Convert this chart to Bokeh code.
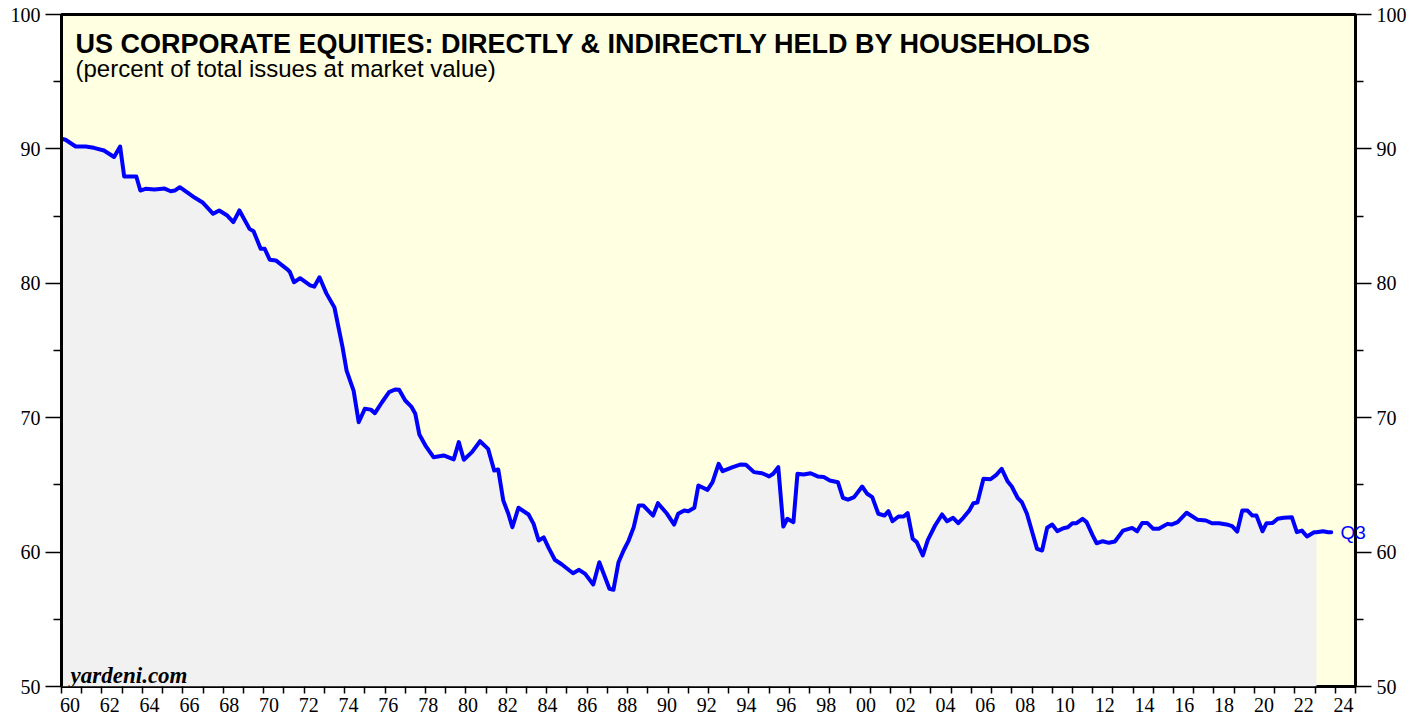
from bokeh.plotting import figure
from bokeh.models import Range1d, LinearAxis, FixedTicker, Label
from bokeh.embed import file_html
from bokeh.resources import INLINE

# ---- data ----
years = [
    1960.0, 1960.2, 1960.7, 1961.2, 1961.6, 1962.1, 1962.6, 1962.9, 1963.1, 1963.7,
    1963.9, 1964.15, 1964.6, 1965.1, 1965.4, 1965.6, 1965.85, 1966.2, 1966.6, 1967.0,
    1967.5, 1967.8, 1968.2, 1968.5, 1968.8, 1969.3, 1969.5, 1969.85, 1970.05, 1970.3,
    1970.6, 1971.2, 1971.3, 1971.5, 1971.8, 1972.3, 1972.5, 1972.76, 1973.1, 1973.5,
    1973.9, 1974.1, 1974.45, 1974.7, 1975.0, 1975.3, 1975.5, 1975.85, 1976.2, 1976.5,
    1976.7, 1977.0, 1977.3, 1977.5, 1977.7, 1978.0, 1978.4, 1978.9, 1979.4, 1979.65,
    1979.9, 1980.3, 1980.7, 1981.1, 1981.4, 1981.6, 1981.85, 1982.1, 1982.3, 1982.6,
    1983.1, 1983.35, 1983.6, 1983.85, 1984.1, 1984.4, 1984.75, 1985.3, 1985.6, 1985.9,
    1986.3, 1986.6, 1987.1, 1987.3, 1987.55, 1987.8, 1988.05, 1988.3, 1988.55, 1988.77,
    1989.26, 1989.5, 1989.95, 1990.3, 1990.5, 1990.8, 1991.0, 1991.3, 1991.5, 1991.95,
    1992.2, 1992.5, 1992.7, 1993.2, 1993.6, 1993.85, 1994.25, 1994.65, 1995.0, 1995.2,
    1995.45, 1995.7, 1995.9, 1996.2, 1996.4, 1996.7, 1997.05, 1997.4, 1997.7, 1998.0,
    1998.4, 1998.65, 1998.9, 1999.2, 1999.6, 1999.85, 2000.1, 2000.4, 2000.7, 2000.9,
    2001.1, 2001.4, 2001.65, 2001.85, 2002.1, 2002.3, 2002.6, 2002.85, 2003.2, 2003.55,
    2003.8, 2004.1, 2004.35, 2004.6, 2004.9, 2005.1, 2005.3, 2005.6, 2005.95, 2006.25,
    2006.5, 2006.8, 2007.0, 2007.3, 2007.5, 2007.75, 2008.25, 2008.5, 2008.75, 2009.0,
    2009.25, 2009.55, 2009.77, 2010.0, 2010.2, 2010.5, 2010.7, 2011.0, 2011.2, 2011.5,
    2011.8, 2012.1, 2012.5, 2012.95, 2013.2, 2013.45, 2013.7, 2014.0, 2014.27, 2014.7,
    2014.9, 2015.2, 2015.65, 2016.2, 2016.6, 2016.9, 2017.25, 2017.7, 2017.9, 2018.15,
    2018.4, 2018.65, 2018.9, 2019.1, 2019.4, 2019.6, 2019.9, 2020.15, 2020.45, 2020.85,
    2021.1, 2021.35, 2021.6, 2021.95, 2022.07, 2022.4, 2022.65, 2022.8,
]
share = [
    90.75, 90.68, 90.18, 90.18, 90.08, 89.88, 89.4, 90.18, 87.95, 87.95,
    86.9, 87.03, 86.98, 87.05, 86.85, 86.9, 87.15, 86.78, 86.36, 85.99,
    85.17, 85.42, 85.04, 84.55, 85.42, 84.05, 83.88, 82.57, 82.57, 81.75,
    81.7, 81.0, 80.83, 80.08, 80.38, 79.84, 79.75, 80.45, 79.25, 78.2,
    75.25, 73.5, 72.0, 69.66, 70.66, 70.6, 70.34, 71.15, 71.9, 72.1,
    72.08, 71.28, 70.83, 70.29, 68.75, 67.93, 67.06, 67.19, 66.9, 68.18,
    66.87, 67.44, 68.25, 67.68, 66.07, 66.15, 63.84, 62.85, 61.85, 63.3,
    62.8, 62.1, 60.86, 61.1, 60.3, 59.43, 59.08, 58.43, 58.68, 58.38,
    57.59, 59.25, 57.27, 57.2, 59.25, 60.12, 60.86, 61.85, 63.47, 63.47,
    62.72, 63.64, 62.85, 62.05, 62.85, 63.1, 63.04, 63.3, 64.96, 64.63,
    65.2, 66.57, 66.02, 66.32, 66.52, 66.5, 65.95, 65.87, 65.63, 65.83,
    66.32, 61.9, 62.48, 62.23, 65.83, 65.77, 65.87, 65.63, 65.58, 65.33,
    65.2, 64.04, 63.9, 64.09, 64.88, 64.34, 64.09, 62.85, 62.72, 63.04,
    62.3, 62.65, 62.65, 62.9, 60.99, 60.74, 59.75, 60.91, 61.96, 62.8,
    62.3, 62.55, 62.15, 62.55, 63.1, 63.64, 63.69, 65.45, 65.42, 65.77,
    66.2, 65.25, 64.88, 64.01, 63.71, 62.85, 60.24, 60.12, 61.81, 62.05,
    61.56, 61.78, 61.85, 62.15, 62.15, 62.48, 62.23, 61.24, 60.66, 60.81,
    60.69, 60.79, 61.6, 61.8, 61.55, 62.17, 62.17, 61.73, 61.73, 62.1,
    62.05, 62.23, 62.93, 62.4, 62.35, 62.15, 62.15, 62.03, 61.93, 61.53,
    63.1, 63.1, 62.72, 62.72, 61.55, 62.15, 62.17, 62.48, 62.55, 62.6,
    61.48, 61.6, 61.16, 61.48, 61.48, 61.55, 61.48, 61.48,
]
FILL_END = 2022.07
x_ticks = list(range(1960, 2025))
x_label_years = list(range(1960, 2025, 2))
x_labels = {y: f"{y % 100:02d}" for y in x_label_years}
y_major = [50, 60, 70, 80, 90, 100]
y_minor = [55, 65, 75, 85, 95]
title = "US CORPORATE EQUITIES: DIRECTLY & INDIRECTLY HELD BY HOUSEHOLDS"
subtitle = "(percent of total issues at market value)"
source_note = "yardeni.com"
end_label = "Q3"
end_label_level = 61.46

SERIF = "Liberation Serif"
SANS = "Liberation Sans"

p = figure(width=1424, height=719, output_backend="svg", toolbar_location=None,
           x_range=Range1d(1960, 2024), y_range=Range1d(50, 100),
           x_axis_location=None, y_axis_location=None,
           min_border_left=61, min_border_right=69, min_border_top=14, min_border_bottom=33)
p.background_fill_color = "#FFFFE1"
p.border_fill_color = "white"
p.outline_line_color = "black"
p.outline_line_width = 3
p.xgrid.visible = False
p.ygrid.visible = False

# filled area under the series (up to FILL_END)
fx = [x for x in years if x <= FILL_END]
fy = share[:len(fx)]
p.varea(x=fx, y1=[50] * len(fx), y2=fy, fill_color="#F1F1F1")
p.line(x=years, y=share, line_color="#0000FF", line_width=4,
       line_join="round", line_cap="round")

# bottom tick marks (every year)
tick_axis = LinearAxis(ticker=FixedTicker(ticks=x_ticks, minor_ticks=[]),
                       major_tick_out=7, major_tick_in=0,
                       major_tick_line_width=1.5, major_tick_line_color="black",
                       axis_line_color=None, major_label_standoff=0,
                       major_label_text_font_size="0px",
                       major_label_overrides={y: "" for y in x_ticks})
p.add_layout(tick_axis, "below")

# bottom labels (spread slightly, like the reference)
p.extra_x_ranges = {"lab": Range1d(1959.573, 2024.603)}
lab_axis = LinearAxis(x_range_name="lab",
                      ticker=FixedTicker(ticks=x_label_years, minor_ticks=[]),
                      major_label_overrides=x_labels,
                      major_tick_out=0, major_tick_in=0, axis_line_color=None,
                      major_label_standoff=4,
                      major_label_text_font=SERIF, major_label_text_font_size="20px",
                      major_label_text_color="black")
p.add_layout(lab_axis, "below")

for side in ("left", "right"):
    ax = LinearAxis(ticker=FixedTicker(ticks=y_major, minor_ticks=y_minor),
                    major_tick_out=16, major_tick_in=0, minor_tick_out=8, minor_tick_in=0,
                    major_tick_line_width=1.5, minor_tick_line_width=1.5,
                    major_tick_line_color="black", minor_tick_line_color="black",
                    axis_line_color="black", axis_line_width=3,
                    major_label_standoff=5,
                    major_label_text_font=SERIF, major_label_text_font_size="20px",
                    major_label_text_color="black")
    p.add_layout(ax, side)

# end-of-series label, drawn through an extra right axis so it can overlap the frame edge
q_axis = LinearAxis(ticker=FixedTicker(ticks=[end_label_level], minor_ticks=[]),
                    major_label_overrides={end_label_level: end_label},
                    major_tick_out=0, major_tick_in=0, minor_tick_out=0, minor_tick_in=0,
                    axis_line_color=None, major_label_standoff=-69,
                    major_label_text_font=SANS, major_label_text_font_size="19px",
                    major_label_text_color="#0000FF")
p.add_layout(q_axis, "right")

p.add_layout(Label(x=1960.69, y=97.84, text=title, text_font=SANS,
                   text_font_style="bold", text_font_size="27px", text_color="black",
                   text_baseline="alphabetic"))
p.add_layout(Label(x=1960.69, y=95.98, text=subtitle, text_font=SANS,
                   text_font_size="24px", text_color="black", text_baseline="alphabetic"))
p.add_layout(Label(x=1960.45, y=50.82, text=source_note, text_font=SERIF,
                   text_font_style="bold italic", text_font_size="23px", text_color="black",
                   text_baseline="alphabetic"))

open("out.html", "w").write(file_html(p, INLINE))
